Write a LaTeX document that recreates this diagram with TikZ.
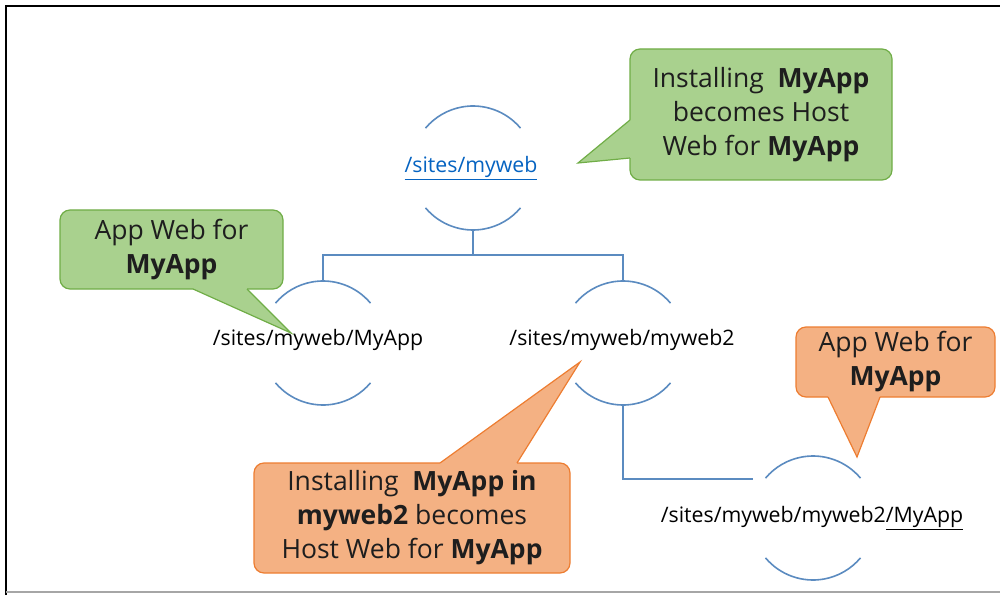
\documentclass[tikz,border=0pt]{standalone}
\usepackage{fontspec}
\setmainfont{Open Sans}
\usetikzlibrary{calc}
\definecolor{webblue}{HTML}{5B8BC0}
\definecolor{linkblue}{HTML}{0563C1}
\definecolor{noteGreen}{HTML}{A9D18E}
\definecolor{noteGreenLine}{HTML}{70AD47}
\definecolor{noteOrange}{HTML}{F4B183}
\definecolor{noteOrangeLine}{HTML}{ED7D31}
\definecolor{notetext}{HTML}{1E1E1E}

\begin{document}
\begin{tikzpicture}[x=1pt, y=1pt,
  webline/.style={webblue, line width=1.6pt},
  sitelabel/.style={font=\fontsize{21.3}{25}\selectfont, inner sep=0pt},
  greennote/.style={draw=noteGreenLine, fill=noteGreen, line width=1.2pt, rounded corners=10pt,
    align=center, inner sep=0pt, text=notetext, font=\fontsize{26.5}{34}\selectfont},
  orangenote/.style={greennote, draw=noteOrangeLine, fill=noteOrange}]
  \useasboundingbox (0,0) rectangle (1000,595);

  % Rahmen
  \draw[black, line width=2pt] (6,0) -- (6,589) -- (1000,589);
  \draw[gray!70, line width=1.5pt] (6,3) -- (1000,3);

  % Webs (Kreismitten)
  \coordinate (root) at (473,427);
  \coordinate (app) at (323,252);
  \coordinate (sub) at (623,252);
  \coordinate (subapp) at (813,77);
  \coordinate (entry) at (753,116);

  \foreach \c in {root,app,sub,subapp} {
    \draw[webline] ($(\c)+(40:62pt)$) arc[start angle=40, end angle=140, radius=62pt];
    \draw[webline] ($(\c)+(220:62pt)$) arc[start angle=220, end angle=320, radius=62pt];
  }

  \node[sitelabel, text=linkblue] (roottext) at (471,427) {\underline{/sites/myweb}};
  \node[sitelabel] (apptext) at (318,255) {/sites/myweb/MyApp};
  \node[sitelabel] (subtext) at (622,255) {/sites/myweb/myweb2};
  \node[sitelabel] (subapptext) at (812,77) {/sites/myweb/myweb2\underline{/MyApp}};

  % Verbindungen
  \draw[webline] ($(root)+(0,-62)$) -- ($(root)+(0,-87)$);
  \draw[webline] ($(app)+(0,62)$) -- ($(app)+(0,88)$) -- ($(sub)+(0,88)$) -- ($(sub)+(0,62)$);
  \draw[webline] ($(sub)+(0,-62)$) |- (entry);

  % Hinweise
  \node[greennote, minimum width=262pt, minimum height=131pt] (hostnote) at (761,480.5)
    {Installing~ \textbf{MyApp}\\becomes Host\\Web for \textbf{MyApp}};
  \fill[noteGreen] (630,437) -- (578,432) -- (630,475) -- (633,475) -- (633,437) -- cycle;
  \draw[noteGreenLine, line width=1.2pt] (630,437) -- (578,432) -- (630,475);

  \node[greennote, minimum width=223pt, minimum height=79pt] (appnote) at (171.5,345.5)
    {App Web for\\\textbf{MyApp}};
  \fill[noteGreen] (193,306) -- (291,262) -- (247,306) -- (247,309) -- (193,309) -- cycle;
  \draw[noteGreenLine, line width=1.2pt] (193,306) -- (291,262) -- (247,306);

  \node[orangenote, minimum width=316pt, minimum height=110pt] (subhostnote) at (412,77)
    {Installing~ \textbf{MyApp in}\\\textbf{myweb2} becomes\\Host Web for \textbf{MyApp}};
  \fill[noteOrange] (440,132) -- (580,233) -- (517,132) -- (517,129) -- (440,129) -- cycle;
  \draw[noteOrangeLine, line width=1.2pt] (440,132) -- (580,233) -- (517,132);

  \node[orangenote, minimum width=199pt, minimum height=70pt] (subappnote) at (895.5,233)
    {App Web for\\\textbf{MyApp}};
  \fill[noteOrange] (828,198) -- (857,138) -- (880,198) -- (880,201) -- (828,201) -- cycle;
  \draw[noteOrangeLine, line width=1.2pt] (828,198) -- (857,138) -- (880,198);
\end{tikzpicture}
\end{document}
